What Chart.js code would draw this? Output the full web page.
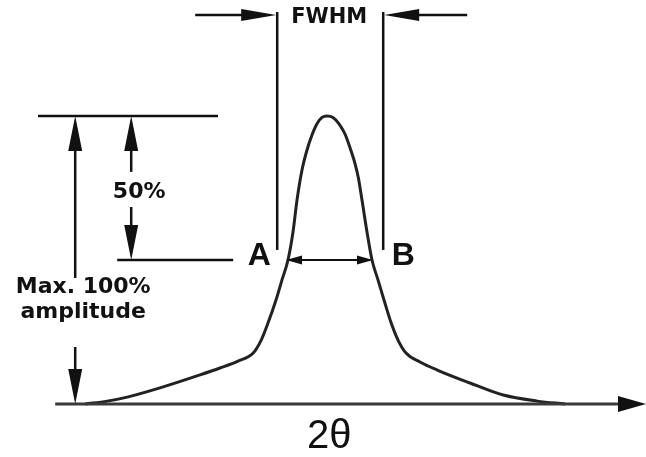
<!DOCTYPE html>
<html>
<head>
<meta charset="utf-8">
<script src="https://cdn.jsdelivr.net/npm/chart.js@4.4.1/dist/chart.umd.min.js"></script>
<style>
  html, body { margin: 0; padding: 0; background: #fff; }
  #wrap { width: 646px; height: 457px; }
</style>
</head>
<body>
<div id="wrap"><canvas id="peakChart" width="646" height="457"></canvas></div>
<script>
// Perfil do pico (2θ em graus, intensidade em % do máximo)
const peakX = [32.13, 32.68, 33.18, 34.0, 35.0, 35.5, 35.95, 36.33, 36.53, 36.7, 36.9, 37.05, 37.2, 37.325, 37.425, 37.55,
               37.675, 37.8, 37.925, 38.05, 38.175, 38.325, 38.475, 38.625, 38.75, 38.875, 38.96, 39.05, 39.175, 39.3,
               39.45, 39.6, 39.78, 39.95, 40.15, 40.5, 40.93, 41.75, 42.58, 43.43, 44.13];
const peakY = [0, 1.0, 2.4, 5.6, 10.1, 12.5, 14.9, 17.7, 22.2, 28.1, 36.1, 43.1, 50, 59.7, 70.8, 81.25,
               88.2, 93.4, 97.3, 99.5, 100, 99.5, 97.3, 93.75, 89.0, 83.5, 78.5, 70.8, 59.7, 50,
               43.1, 36.1, 28.1, 22.2, 17.7, 14.6, 11.8, 7.3, 3.1, 1.0, 0];

// Níveis de referência (%)
const maxLevel = 100;
const halfLevel = 50;
// Pontos A e B (meia altura)
const halfLeft = 37.2;
const halfRight = 39.3;

// Textos
const labelFWHM = 'FWHM';
const labelHalf = '50%';
const labelMax = ['Max. 100%', 'amplitude'];
const labelA = 'A';
const labelB = 'B';
const labelAxis = '2θ';

// Posições das anotações (em unidades dos eixos)
const ann = {
  baseStart: 31.38, baseEnd: 46.15,
  topLineFrom: 30.95, topLineTo: 35.45,
  halfLineFrom: 32.93, halfLineTo: 35.83,
  bigArrowX: 31.88, bigGapTop: 43.75, bigGapBottom: 19.8,
  halfArrowX: 33.28, halfGapTop: 80.6, halfGapBottom: 68.4,
  halfTextX: 33.48, halfTextY: 73.6,
  maxTextX: 32.08, maxTextY1: 38.5, maxTextY2: 29.9,
  fwhmLeftX: 36.93, fwhmRightX: 39.58, fwhmTop: 136.1, fwhmBottom: 53.5,
  fwhmArrowY: 135.1, fwhmOuterLeft: 34.88, fwhmOuterRight: 41.68,
  fwhmTextX: 38.23, fwhmTextY: 134.2,
  letterY: 51.5, letterAX: 36.48, letterBX: 40.08,
  axisTextX: 38.23, axisTextY: -11.3
};

// Ponta de seta preenchida: (x,y) é a ponta, (dx,dy) a direção
function arrowHead(ctx, x, y, dx, dy, len, half) {
  const px = -dy, py = dx;
  ctx.beginPath();
  ctx.moveTo(x, y);
  ctx.lineTo(x - dx * len + px * half, y - dy * len + py * half);
  ctx.lineTo(x - dx * len - px * half, y - dy * len - py * half);
  ctx.closePath();
  ctx.fill();
}

function line(ctx, x1, y1, x2, y2) {
  ctx.beginPath();
  ctx.moveTo(x1, y1);
  ctx.lineTo(x2, y2);
  ctx.stroke();
}

// Desenha linhas de cota, setas e textos sobre o gráfico
const annotationPlugin = {
  id: 'fwhmAnnotations',
  afterDraw(chart) {
    const ctx = chart.ctx;
    const X = v => chart.scales.x.getPixelForValue(v);
    const Y = v => chart.scales.y.getPixelForValue(v);
    ctx.save();
    ctx.lineCap = 'butt';

    // Linha de base com seta (eixo 2θ)
    ctx.strokeStyle = '#3a3a3a';
    ctx.lineWidth = 3;
    line(ctx, X(ann.baseStart), Y(0), X(ann.baseEnd) - 20, Y(0));
    ctx.fillStyle = '#111';
    arrowHead(ctx, X(ann.baseEnd), Y(0), 1, 0, 28, 8);

    ctx.strokeStyle = '#111';
    ctx.lineWidth = 2.5;
    // Linhas horizontais de 100% e 50%
    line(ctx, X(ann.topLineFrom), Y(maxLevel), X(ann.topLineTo), Y(maxLevel));
    line(ctx, X(ann.halfLineFrom), Y(halfLevel), X(ann.halfLineTo), Y(halfLevel));

    // Seta dupla da amplitude máxima
    const bx = X(ann.bigArrowX);
    line(ctx, bx, Y(maxLevel) + 20, bx, Y(ann.bigGapTop));
    line(ctx, bx, Y(ann.bigGapBottom), bx, Y(0) - 20);
    arrowHead(ctx, bx, Y(maxLevel), 0, -1, 35, 7);
    arrowHead(ctx, bx, Y(0), 0, 1, 35, 7);

    // Seta dupla de 50%
    const hx = X(ann.halfArrowX);
    line(ctx, hx, Y(maxLevel) + 20, hx, Y(ann.halfGapTop));
    line(ctx, hx, Y(ann.halfGapBottom), hx, Y(halfLevel) - 20);
    arrowHead(ctx, hx, Y(maxLevel), 0, -1, 35, 7);
    arrowHead(ctx, hx, Y(halfLevel), 0, 1, 35, 7);

    // Linhas verticais da FWHM
    line(ctx, X(ann.fwhmLeftX), Y(ann.fwhmTop), X(ann.fwhmLeftX), Y(ann.fwhmBottom));
    line(ctx, X(ann.fwhmRightX), Y(ann.fwhmTop), X(ann.fwhmRightX), Y(ann.fwhmBottom));

    // Setas externas da FWHM
    const fy = Y(ann.fwhmArrowY);
    line(ctx, X(ann.fwhmOuterLeft), fy, X(ann.fwhmLeftX) - 20, fy);
    arrowHead(ctx, X(ann.fwhmLeftX) - 1, fy, 1, 0, 35, 6);
    line(ctx, X(ann.fwhmRightX) + 20, fy, X(ann.fwhmOuterRight), fy);
    arrowHead(ctx, X(ann.fwhmRightX) + 1, fy, -1, 0, 35, 6);

    // Seta dupla entre A e B
    ctx.lineWidth = 2;
    const ay = Y(halfLevel);
    line(ctx, X(halfLeft) + 10, ay, X(halfRight) - 10, ay);
    arrowHead(ctx, X(halfLeft) - 2, ay, -1, 0, 16, 4.5);
    arrowHead(ctx, X(halfRight) + 1, ay, 1, 0, 16, 4.5);

    // Textos
    ctx.fillStyle = '#111';
    ctx.textAlign = 'center';
    ctx.textBaseline = 'middle';
    ctx.font = "bold 21px 'DejaVu Sans'";
    ctx.fillText(labelFWHM, X(ann.fwhmTextX), Y(ann.fwhmTextY));
    ctx.font = "bold 22px 'DejaVu Sans'";
    ctx.fillText(labelHalf, X(ann.halfTextX), Y(ann.halfTextY));
    ctx.textBaseline = 'alphabetic';
    ctx.fillText(labelMax[0], X(ann.maxTextX), Y(ann.maxTextY1));
    ctx.fillText(labelMax[1], X(ann.maxTextX), Y(ann.maxTextY2));
    ctx.textBaseline = 'middle';
    ctx.font = "bold 32px 'Liberation Sans'";
    ctx.fillText(labelA, X(ann.letterAX), Y(ann.letterY));
    ctx.fillText(labelB, X(ann.letterBX), Y(ann.letterY));
    ctx.font = "40px 'Liberation Sans'";
    ctx.fillText(labelAxis, X(ann.axisTextX), Y(ann.axisTextY));
    ctx.restore();
  }
};

const ctx = document.getElementById('peakChart').getContext('2d');
new Chart(ctx, {
  type: 'line',
  data: {
    datasets: [{
      data: peakX.map((x, i) => ({ x: x, y: peakY[i] })),
      borderColor: '#222',
      borderWidth: 3,
      pointRadius: 0,
      fill: false,
      cubicInterpolationMode: 'monotone',
      clip: false
    }]
  },
  options: {
    responsive: false,
    animation: false,
    layout: { padding: { top: 116, bottom: 53, left: 0, right: 0 } },
    scales: {
      x: { type: 'linear', min: 30, max: 46.15, display: false },
      y: { min: 0, max: 100, display: false }
    },
    plugins: {
      legend: { display: false },
      tooltip: { enabled: false }
    }
  },
  plugins: [annotationPlugin]
});
</script>
</body>
</html>
